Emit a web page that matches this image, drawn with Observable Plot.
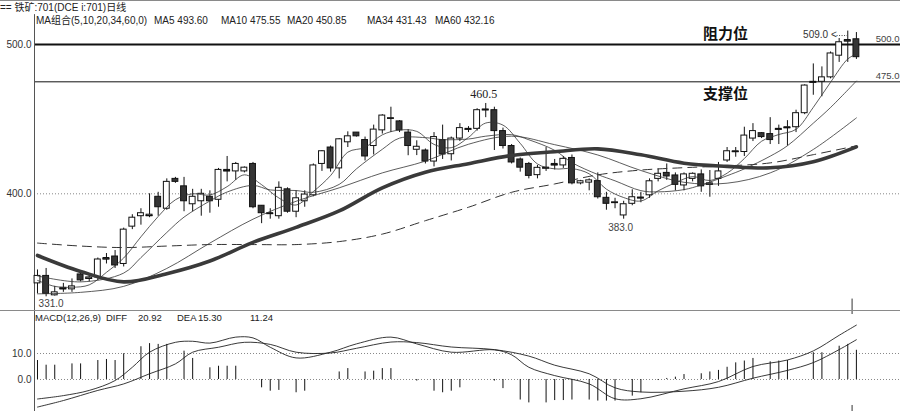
<!DOCTYPE html>
<html><head><meta charset="utf-8">
<script src="https://cdn.jsdelivr.net/npm/d3@7"></script>
<script src="https://cdn.jsdelivr.net/npm/@observablehq/plot@0.6"></script>
<style>
body{margin:0;background:#fff;}
#wrap{position:relative;width:900px;height:411px;overflow:hidden;background:#fff;font-family:"Liberation Sans","Noto Sans CJK SC",sans-serif;color:#222;}
.t{position:absolute;font-size:10px;line-height:12px;white-space:nowrap;}
.hl{position:absolute;left:0;width:900px;height:1px;background:#8a8a8a;}
</style></head>
<body>
<div id="wrap">
  <div id="main" style="position:absolute;left:0;top:0"></div>
  <div id="macd" style="position:absolute;left:0;top:310px"></div>
  <div class="hl" style="top:0"></div>
  <div class="hl" style="top:310px"></div>
</div>
<script>
// ---- price data (index 0..95) ----
const opens  = [340,345,332,336,336,346,343,344,356,358,353,378,385,385,398,390,410,405,393,395,398,396,416,415,415,420,392,387,385,403,388,395,399,420,431,417,434.5,441,436,432,442.5,450.5,448.5,441,429.5,429,421.6,436,426.5,437,443,443.5,456,456,442,432,423,420,412.5,417,420,419,424,407,407.5,408.5,397.3,394,385.5,393.3,397,399,410,414,412.3,405.6,410,413,406,410,422.3,428,428,437,440.6,440,443,444,444.6,454,474.5,475,478,492.5,502,503.5];
const highs  = [349,350,338,340,343,348,346,357,360,362,377,386,390,400,401,410,411,411,403,403,402,417,425,421,418,421,392,390,408,404,402,402,420,429,432,437,441.5,441,438,446,453,458,449,443,435.5,430,441,446,438,447,445,457,460.5,458,444,433,424,421,419,431,423,425,426,409,410,414,401,397,395,402.7,401,410,416.7,420,414,414,414,416,415.6,421,431,431,444.6,447,441,451,446,449,456,473,487,485,495,504,509,508];
const lows   = [333,331,331.5,334,334,341,341,342,353,350,351,376,379,384,385,389,407,388,388,385,387,391,408,409,414,390,380,383,383,387,384,391,398,415,414.5,410,431,438,422,426,440,441,441,425.5,425.6,420,418,423,422,435,441,442,451,429,430,420,414.5,410,410,415,416,417,406,406,402,396.5,389,390,383,392,394,397,408,409,402,402,408,401,397.7,405,421,424.5,425,435,437,433,433,432,441,453,466,465,477,488,488,490];
const closes = [345,333,334,337,338,342,344,356,357,352,376,384,387,386,391,408,408,395,398,400,395,416,415,420,417.5,391,387,386.5,404,388,397,399.5,419,428.5,417,436.5,438.5,438.5,425,443,452.4,450.6,442.5,432,431.5,421.6,438,426.3,437,444,443.5,456,456.5,442,432,421,417.5,412,417.4,417.5,419,423.4,407,408.4,409,397.7,393.3,394.3,393,397.7,397.5,408.4,413.4,411.6,406,413,413.4,405,407,415,428.5,428.5,439,442,438,436,443.5,444.6,454,472.5,475,478,494,501.5,503,491.5];

// ---- moving averages: [candle index, value] ----
const ma5  = [[0,342],[2,338],[4,337.4],[6,339],[8,347.4],[10,357],[12,371.2],[14,384.8],[16,396],[18,400],[20,399.2],[22,404.8],[24,412.7],[26,406.1],[28,397.2],[30,392.5],[32,401.5],[34,412.2],[36,427.9],[38,431.1],[40,439.5],[42,442.7],[44,441.8],[46,433.1],[48,430.9],[50,437.8],[52,447.4],[54,446],[56,433.8],[58,420],[60,416.7],[62,416.9],[64,413.4],[66,403.1],[68,397.5],[70,395.2],[72,402],[74,407.4],[76,411.5],[78,408.9],[80,413.8],[82,423.6],[84,435.2],[86,439.7],[88,443.2],[90,457.9],[92,474.7],[94,490.3],[95,493.6]];
const ma10 = [[0,345],[5,341],[10,346.9],[12,357.3],[15,374.1],[17,384.4],[20,395.2],[22,401.2],[25,405.6],[27,402.6],[30,402.2],[32,401],[35,406.3],[37,416.7],[40,429.8],[42,437.3],[45,437.6],[47,436.3],[50,436.7],[52,438.6],[55,439.6],[57,436.2],[60,429.1],[62,420.9],[65,412.9],[67,408.7],[70,402.1],[72,401.3],[75,402.8],[77,405.9],[80,412.1],[82,416.7],[85,425.2],[87,432.2],[90,447.3],[92,457.8],[95,475.55]];
const ma20 = [[0,333],[5,334],[10,338],[15,350],[20,367],[25,383],[30,395],[35,404],[40,414],[45,421.9],[50,433.2],[55,438.6],[60,432.9],[65,426],[70,415.6],[75,407.7],[80,407.1],[85,414],[90,429.7],[95,450.85]];
const ma34 = [[0,358.7],[5,348],[10,341],[15,346.5],[20,355],[25,367.5],[30,377.5],[35,388.5],[40,404],[45,414.5],[50,420.2],[55,425.7],[60,428.2],[65,430.1],[70,426.1],[75,420.5],[80,418.4],[85,417.4],[90,421.5],[95,431.43]];
const ma60 = [[0,367],[5,365],[10,364],[15,365],[20,366],[25,366],[30,366],[35,368],[40,373],[45,382],[50,391],[55,401],[60,406.6],[65,412.7],[70,415.9],[75,417.5],[80,418.7],[85,420.7],[90,426.2],[95,432.16]];

// ---- MACD ----
const diffLine = [[0,-7.5],[3,-6.2],[6,-4.2],[9,-0.4],[11,4.7],[13,10.5],[16,14.3],[18,14.7],[20,14],[23,16.3],[25,16],[27,12.4],[30,8.3],[34,10.5],[37,13.7],[41,16.3],[44,13.7],[48,10.5],[53,11.4],[55,9.5],[57,4.7],[60,1.5],[64,-1.7],[67,-7.4],[70,-7.4],[75,-3.6],[79,-0.8],[83,5],[87,7.5],[90,11],[93,17],[95,20.92]];
const deaLine  = [[0,-10.6],[3,-8.1],[7,-4.2],[10,-1.7],[13,2.2],[16,6],[18,10.5],[21,12.4],[24,14.3],[27,13.5],[30,10.5],[34,10.2],[37,12],[41,14.4],[44,14.2],[48,12.5],[53,11.5],[57,9],[60,5.5],[64,2.2],[67,-3.2],[70,-4.8],[75,-4.5],[79,-3],[83,0.5],[87,3.5],[90,6.5],[93,11.5],[95,15.3]];
const macdBars = [[0,7.3],[1,5.5],[2,5.5],[4,6],[5,6],[7,7.3],[8,7.7],[9,7.3],[10,9.9],[12,12.6],[13,13.8],[14,13.5],[15,13.5],[17,10.9],[18,8.1],[20,4.5],[21,5.1],[22,5.1],[23,5.1],[26,-3.2],[27,-4.5],[28,-4.2],[30,-5.1],[31,-4.5],[35,2.9],[36,4.2],[38,2.9],[39,3.2],[40,4.2],[41,4.2],[44,-0.6],[46,-4.5],[47,-5.1],[48,-4.5],[49,-3.2],[53,-0.6],[54,-3.5],[56,-7.9],[57,-9],[59,-9],[60,-8.1],[61,-8.1],[62,-7.9],[64,-7.9],[65,-8.3],[66,-8.3],[67,-8.3],[69,-6.4],[70,-5.1],[72,-0.4],[73,0.4],[74,0.9],[75,1.9],[77,2.2],[78,2.9],[79,3.5],[80,4.7],[81,6.4],[82,7.1],[83,8.1],[85,6.8],[86,7.1],[87,7.3],[90,10.3],[91,10.3],[93,12.8],[94,13.5],[95,11.24]];

// ---- labels ----
const priceTicks = [400, 500];
const macdTicks = [0, 10];
const levelLines = [500, 475];
const levelNames = ["阻力位", "支撑位"];
const peakMark = {i:52, v:460.5};
const troughMark = {i:68, v:383.0};
const lowMark = {i:1, v:331.0};
const highMark = {i:94, v:509.0};
const maLegend = [["MA组合(5,10,20,34,60,0)",36],["MA5 493.60",154],["MA10 475.55",221],["MA20 450.85",287],["MA34 431.43",367],["MA60 432.16",435]];
const macdLegend = [["MACD(12,26,9)",35],["DIFF",106],["20.92",138],["DEA",177],["15.30",198],["11.24",250]];
const titleText = "== 铁矿:701(DCE i:701)日线";

const candles = closes.map((c, i) => ({i, o: opens[i], h: highs[i], l: lows[i], c}));
const pts = a => a.map(([i, v]) => ({i, v}));
const xDom = [-0.348, 100.116];
const font = '"Liberation Sans","Noto Sans CJK SC",sans-serif';
const yMain = [321.84, 529.47];
const f1 = d3.format(".1f");

const main = Plot.plot({
  width: 900, height: 310, marginLeft: 34, marginRight: 0, marginTop: 0, marginBottom: 0,
  x: {domain: xDom, range: [34, 900], axis: null},
  y: {domain: yMain, range: [310, 0], axis: null},
  style: {fontFamily: font, fontSize: "10px", background: "transparent", color: "#222"},
  marks: [
    Plot.ruleY([400], {stroke: "#888", strokeDasharray: "1,2"}),
    Plot.ruleY([levelLines[0]], {stroke: "#111", strokeWidth: 2}),
    Plot.ruleY([levelLines[1]], {stroke: "#111", strokeWidth: 1}),
    Plot.ruleX([xDom[0]], {y1: 520, y2: yMain[0], stroke: "#555"}),
    Plot.axisY(priceTicks, {anchor: "left", tickSize: 0, tickPadding: 3, tickFormat: f1, label: null, fill: "#333", fontSize: 10}),
    Plot.ruleX(candles, {x: "i", y1: "l", y2: "h", stroke: "#111", strokeWidth: 1}),
    Plot.rect(candles, {x1: d => d.i - 0.34, x2: d => d.i + 0.34, y1: "o", y2: "c",
      fill: d => d.c >= d.o ? "#fff" : "#353535", stroke: "#111", strokeWidth: 1}),
    Plot.ruleY(candles.filter(d => Math.abs(d.c - d.o) < 1.2), {y: d => (d.o + d.c) / 2, x1: d => d.i - 0.4, x2: d => d.i + 0.4, stroke: "#111", strokeWidth: 1.2}),
    Plot.line(pts(ma60), {x: "i", y: "v", stroke: "#333", strokeWidth: 1, strokeDasharray: "9,6", curve: "catmull-rom"}),
    Plot.line(pts(ma20), {x: "i", y: "v", stroke: "#333", strokeWidth: 0.8, curve: "catmull-rom"}),
    Plot.line(pts(ma10), {x: "i", y: "v", stroke: "#333", strokeWidth: 0.8, curve: "catmull-rom"}),
    Plot.line(pts(ma5), {x: "i", y: "v", stroke: "#333", strokeWidth: 0.8, curve: "catmull-rom"}),
    Plot.line(pts(ma34), {x: "i", y: "v", stroke: "#3a3a3a", strokeWidth: 3.6, curve: "catmull-rom"}),
    Plot.text([peakMark], {x: "i", y: "v", text: d => f1(d.v), dy: -9, dx: -2, fontSize: 12, fontFamily: '"Liberation Serif",serif', fill: "#222"}),
    Plot.text([troughMark], {x: "i", y: "v", text: d => f1(d.v), dy: 9, dx: -3, fontSize: 10, fill: "#444"}),
    Plot.text([lowMark], {x: "i", y: "v", text: d => f1(d.v), dy: 7, dx: 5, fontSize: 10, fill: "#444"}),
    Plot.text([highMark], {x: "i", y: "v", text: d => f1(d.v) + " <", textAnchor: "end", dx: -11, dy: 4, fontSize: 10, fill: "#333"}),
    Plot.link([highMark], {x1: d => d.i - 1.3, x2: d => d.i - 0.1, y1: d => d.v - 3, y2: d => d.v - 3, stroke: "#444", strokeDasharray: "1,1.5"}),
    Plot.text([levelLines[0]], {x: 79.8, y: d => d, text: () => levelNames[0], dy: -10, fontSize: 15, fontWeight: "bold", fontFamily: '"Noto Sans CJK SC",sans-serif', fill: "#111"}),
    Plot.text([levelLines[1]], {x: 79.8, y: d => d, text: () => levelNames[1], dy: 12, fontSize: 15, fontWeight: "bold", fontFamily: '"Noto Sans CJK SC",sans-serif', fill: "#111"}),
    Plot.text(levelLines, {x: xDom[1], y: d => d, text: d => f1(d), textAnchor: "end", dx: -1, dy: -6, fontSize: 9.5, fill: "#444"}),
    Plot.ruleX([94.5], {y1: 329.5, y2: yMain[0], stroke: "#333"})
  ]
});
document.getElementById("main").appendChild(main);

const yM = [-12.31, 26.54];
const macd = Plot.plot({
  width: 900, height: 101, marginLeft: 34, marginRight: 0, marginTop: 0, marginBottom: 0,
  x: {domain: xDom, range: [34, 900], axis: null},
  y: {domain: yM, range: [101, 0], axis: null},
  style: {fontFamily: font, fontSize: "10px", background: "transparent", color: "#222"},
  marks: [
    Plot.ruleY(macdTicks, {stroke: "#888", strokeDasharray: "1,2"}),
    Plot.ruleX([xDom[0]], {stroke: "#555"}),
    Plot.axisY(macdTicks, {anchor: "left", tickSize: 0, tickPadding: 3, tickFormat: f1, label: null, fill: "#333", fontSize: 10}),
    Plot.ruleX(pts(macdBars), {x: "i", y1: 0, y2: "v", stroke: "#111", strokeWidth: 1}),
    Plot.line(pts(deaLine), {x: "i", y: "v", stroke: "#222", strokeWidth: 0.9, curve: "catmull-rom"}),
    Plot.line(pts(diffLine), {x: "i", y: "v", stroke: "#222", strokeWidth: 0.9, curve: "catmull-rom"}),
    Plot.ruleX([94.5], {y1: yM[1], y2: 25, stroke: "#333"}),
    Plot.ruleX([94.5], {y1: -10, y2: yM[0], stroke: "#333"})
  ]
});
document.getElementById("macd").appendChild(macd);

const wrap = document.getElementById("wrap");
function addText(txt, left, top, size) {
  const s = document.createElement("div");
  s.className = "t"; s.textContent = txt;
  s.style.left = left + "px"; s.style.top = top + "px";
  if (size) s.style.fontSize = size + "px";
  wrap.appendChild(s);
}
addText(titleText, 0, 2);
maLegend.forEach(([t, x]) => addText(t, x, 15));
macdLegend.forEach(([t, x]) => addText(t, x, 312, 9.5));
</script>
</body></html>
